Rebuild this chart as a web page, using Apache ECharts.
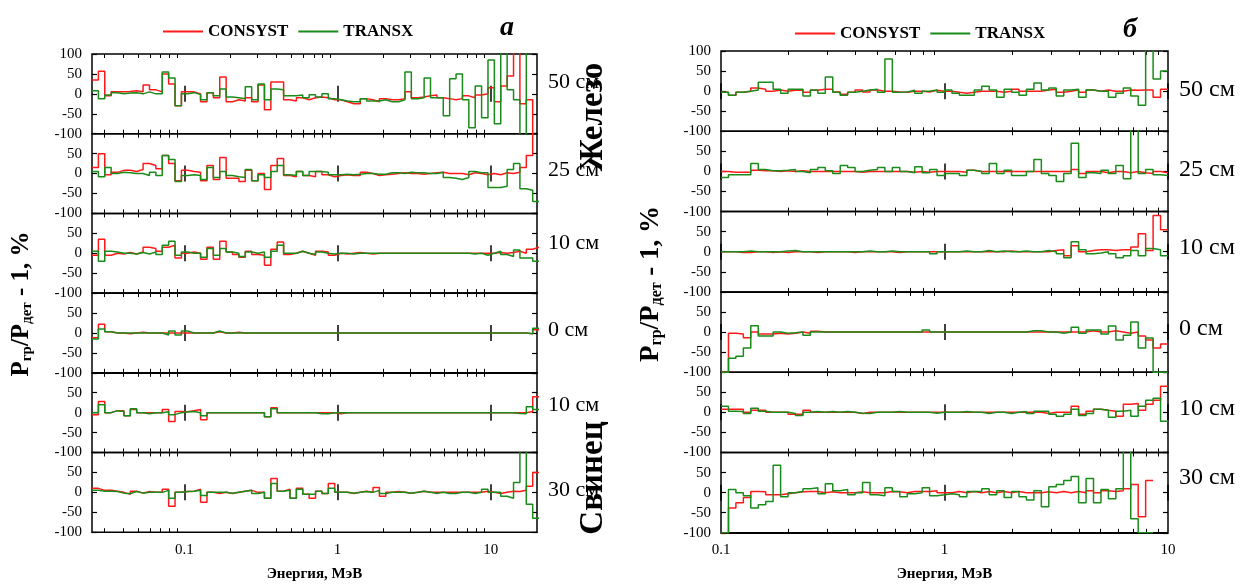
<!DOCTYPE html>
<html>
<head>
<meta charset="utf-8">
<script src="https://cdn.jsdelivr.net/npm/echarts@6/dist/echarts.min.js"></script>
<style>
  html, body { margin: 0; padding: 0; background: #fff; }
  #chart { width: 1246px; height: 584px; }
</style>
</head>
<body>
<div id="chart"></div>
<script>
// group boundaries, MeV
const edgesA = [0.025, 0.02752, 0.03029, 0.03334, 0.0367, 0.04039, 0.04446, 0.04893, 0.05386, 0.05928, 0.06525, 0.07182, 0.07906, 0.08702, 0.09578, 0.1054, 0.116, 0.1277, 0.1406, 0.1547, 0.1703, 0.1875, 0.2063, 0.2271,
  0.25, 0.2752, 0.3029, 0.3334, 0.367, 0.4039, 0.4446, 0.4893, 0.5386, 0.5928, 0.6525, 0.7182, 0.7906, 0.8702, 0.9578, 1.054, 1.16, 1.277, 1.406, 1.547, 1.703, 1.875, 2.063, 2.271,
  2.5, 2.752, 3.029, 3.334, 3.67, 4.039, 4.446, 4.893, 5.386, 5.928, 6.525, 7.182, 7.906, 8.702, 9.578, 10.54, 11.6, 12.77, 14.06, 15.47, 17.03, 18.75, 20.63];
const edgesB = [0.1, 0.108, 0.1166, 0.1259, 0.1359, 0.1468, 0.1585, 0.1711, 0.1848, 0.1995, 0.2154, 0.2326, 0.2512, 0.2712, 0.2929, 0.3162, 0.3415, 0.3687, 0.3981, 0.4299, 0.4642, 0.5012, 0.5412, 0.5843, 0.631, 0.6813, 0.7356, 0.7943, 0.8577, 0.9261,
  1, 1.08, 1.166, 1.259, 1.359, 1.468, 1.585, 1.711, 1.848, 1.995, 2.154, 2.326, 2.512, 2.712, 2.929, 3.162, 3.415, 3.687, 3.981, 4.299, 4.642, 5.012, 5.412, 5.843, 6.31, 6.813, 7.356, 7.943, 8.577, 9.261, 10];

// panel a: deviation, %
const aFe50Consyst = [35, 57, -5, 5, 5, 6, 8, 5, 22, 10, 5, 50, 25, -30, 5, 5, 0, -20, 3, -10, 42, -20, -15, -18, -10, -20, 22, -40, 30, 30, -15, -18, -10, -15, -10, -8, -10, -15, -15, -20, -25, -25, -12, -15, -20, -12, -15, -15, -12, 5, -10, -8, -5, -3, -10, -12, -15, -12, -5, -10, -3, 0, 15, -20, 20, 45, 120, -25, -15, -120];
const aFe50Transx = [8, -12, -3, 3, 0, 2, 3, 0, 5, 0, 0, 55, 40, -30, 0, 3, -2, -15, 3, -5, 12, -8, -10, -12, 18, -15, 25, -15, 12, 10, -5, -5, -3, -10, -2, -8, 0, -12, -15, -18, -20, -20, -12, -18, -18, -15, -20, -20, -15, 55, -12, -10, 40, -10, -10, -55, 38, 50, -15, -85, 20, -60, 85, -75, 120, 10, -15, -110, 120, 120];
const aFe25Consyst = [15, 50, -3, 3, 8, 8, 5, 10, 25, 20, 12, 45, 25, -18, 8, 5, 3, -18, 20, -15, 40, -12, -12, -20, 8, -18, 0, -40, 20, 38, -5, -8, 5, -5, -8, 5, -3, -8, -5, -3, -5, -5, 3, 0, -5, -3, -2, 0, 2, 0, 0, -2, 0, 2, 3, 0, 0, 0, -3, 2, 0, -3, 0, -3, 2, 0, 3, 15, 45, 110];
const aFe25Transx = [5, -8, 15, 0, 3, 2, 0, 0, -5, 3, -5, 45, 35, -20, -5, -3, -5, -15, 15, -10, 5, -5, -8, -10, 10, -18, -3, -10, 5, 20, -3, -5, 5, -5, 5, 5, 3, -3, -3, -2, -3, -2, 0, 0, -2, -2, 2, 2, 0, 3, 2, 2, 0, 0, 3, -10, -12, -15, -10, 5, 2, 2, -35, -35, -32, 10, 25, -38, -42, -70];
const aFe10Consyst = [-5, 35, -5, 0, -2, 2, -2, 3, 15, 12, 5, 15, 20, -12, 0, 3, 0, -15, 15, -15, 30, 3, -3, -10, 5, -3, -5, -30, 10, 28, -3, 0, 5, 0, -5, 5, 3, -5, 0, -2, 0, 2, 0, -2, 0, 0, 0, 0, 0, 0, 0, 0, 0, 0, 0, 0, 0, 0, 0, 0, 0, 0, 0, 2, 0, 2, 5, 0, 10, 15];
const aFe10Transx = [5, -20, 5, 3, 0, 0, -2, 2, -2, 3, -3, 20, 30, -5, 3, 0, 0, -10, 12, -5, 12, 3, 0, -8, 3, 0, 3, -10, 5, 20, 0, 0, 5, 0, -3, 3, 0, -2, 0, 0, -2, 0, 0, 0, 0, 0, 0, 0, 0, 0, 0, 0, 0, 0, 0, 0, 0, 0, 0, -2, 0, -5, 0, 5, -3, -8, 8, -12, -12, -20];
const a0Consyst = [-12, 22, 3, 0, 0, -2, 0, 2, 0, 0, 0, 0, 0, 0, 0, 0, 0, 0, 0, 3, 0, 0, 2, 0, 0, 0, 0, 0, 0, 0, 0, 0, 0, 0, 0, 0, 0, 0, 0, 0, 0, 0, 0, 0, 0, 0, 0, 0, 0, 0, 0, 0, 0, 0, 0, 0, 0, 0, 0, 0, 0, 0, 0, 0, 0, 0, 0, 0, -2, 8];
const a0Transx = [-15, 10, 3, 0, 0, 0, 0, 0, 0, 0, 0, -5, 5, -5, 5, 0, 0, 0, 0, 5, 0, 0, 0, 0, 0, 0, 0, 0, 0, 0, 0, 0, 0, 0, 0, 0, 0, 0, 0, 0, 0, 0, 0, 0, 0, 0, 0, 0, 0, 0, 0, 0, 0, 0, 0, 0, 0, 0, 0, 0, 0, 0, 0, 0, 0, 0, 0, 0, -2, 12];
const aPb10Consyst = [-5, 28, 0, 5, 5, -8, 8, 0, 0, 0, 0, 8, -22, 3, 2, 5, 8, -18, 0, 0, 0, 0, 0, 0, 0, 0, 0, -10, 12, 0, 0, 0, 0, 0, 0, 0, 0, 0, -3, 0, 0, 0, 0, 0, 0, 0, 0, 0, 0, 0, 0, 0, 0, 0, 0, 0, 0, 0, 0, 0, 0, 0, 0, 0, 0, 0, 0, 0, 3, 40];
const aPb10Transx = [0, 20, 0, 5, 3, -8, 10, 0, -3, 0, 0, 2, -5, 0, 2, 3, 0, -8, 0, 0, 0, 0, 0, 0, 0, 0, 0, -10, 10, 0, 0, 0, 0, 0, 0, -3, -3, 0, 0, 0, 0, 0, 0, 0, 0, 0, 0, 0, 0, 0, 0, 0, 0, 0, 0, 0, 0, 0, 0, 0, 0, 0, 0, 0, 0, 0, -2, -3, 15, 8];
const aPb30Consyst = [10, 5, 5, 3, 0, -5, 3, -2, 2, 0, 0, 8, -35, 0, 2, 3, 8, -25, 0, -3, 0, -3, 0, 3, 5, 0, 0, -15, 35, 3, 8, -15, 10, -5, -15, 3, -3, 22, 0, 0, -3, 0, 3, 0, 12, -10, 0, 2, 0, -2, 0, 3, 0, 0, 0, 0, 0, 0, 0, 0, 0, 3, 0, -3, 0, 3, 2, 5, 15, 50];
const aPb30Transx = [5, 3, 3, 2, -2, -3, 2, -2, 0, 0, 0, 5, -15, 0, 2, 3, 5, -8, 0, 0, 0, -2, 0, 3, 5, -3, 0, -15, 22, 3, 5, -15, 8, -5, -5, 3, -3, 10, 0, 0, -2, 0, 2, 0, 5, -3, 0, 0, 0, -2, 0, 3, 0, -3, 0, -3, -3, 0, 0, -3, 0, 8, 0, 0, -10, -15, 25, 120, -30, -65];

// panel b
const bFe50Consyst = [-3, -10, -3, 0, 8, 5, 0, 3, 0, 2, 3, -3, 2, 5, 5, -2, -8, -3, 3, -2, 3, 0, 0, -2, -3, 0, 0, -2, 2, 0, 0, -3, -5, -3, 0, 0, 0, -3, 0, 5, 0, 0, 0, 3, 5, -3, 0, 3, -3, 3, 0, 3, 0, 0, 3, 2, 3, 3, -15, 5];
const bFe50Transx = [-3, -10, -3, 0, 3, 22, 22, 5, -5, 5, 5, -12, 3, -5, 35, -3, -10, -3, 0, 3, 5, -3, 80, -3, -2, 2, -5, 0, 3, -3, 3, -5, -10, -10, 3, 12, 3, -15, 5, -3, -10, 5, 20, 3, 8, -12, 3, 5, -15, 3, 0, 0, -15, -5, 8, -12, -35, 120, 30, 50];
const bFe25Consyst = [0, -2, -2, -2, 3, 2, 2, 0, 2, 0, 2, 0, 0, 0, 0, 0, 0, 0, -2, 0, 0, 0, 0, 0, 0, -2, 0, -2, 0, 0, 0, 0, -2, 3, 0, 0, 0, 0, 0, 0, 0, 0, 0, 0, 0, 0, 0, 5, -5, 0, 0, -3, 0, 0, -3, 0, -3, -5, 0, -3];
const bFe25Transx = [-15, -8, -8, -8, 20, 5, 2, 2, 3, 5, 0, -3, 5, 10, 2, -5, 15, 10, 0, 3, 5, 10, 0, 10, 0, -3, 12, -3, 5, -10, -5, -5, -10, 3, 0, -5, 20, -5, 3, -10, -10, 0, 30, -5, -10, -25, -5, 70, -15, -3, -5, 3, -5, 15, -18, 120, -5, 5, -8, -10];
const bFe10Consyst = [0, 0, -2, -2, 0, 0, -2, 0, -2, 0, 0, 0, -2, 0, 0, 0, 0, -2, 0, 0, 0, 0, 0, -2, 0, 0, 0, 0, 0, 0, 0, 0, 0, 0, 0, 0, 0, 0, 2, 0, 0, 0, 0, 0, 3, 5, -10, 15, 0, 3, 5, 5, 3, 5, 5, 12, 45, 3, 90, 55];
const bFe10Transx = [0, 0, 0, 2, 0, 0, 0, 0, 2, 3, 0, 0, 0, 0, 0, 0, 0, 0, 0, 2, 0, 0, 2, 0, 0, 0, 0, 0, -5, 0, 0, 0, 2, 0, 0, 3, 0, 2, 0, 0, 2, 0, 0, 3, 0, -5, -15, 25, 5, -5, -3, 0, -5, -15, -10, 3, -10, 8, 5, -10];
const b0Consyst = [-100, -3, -5, -14, 0, -5, -5, -3, -5, -3, 0, -3, 2, 0, 0, 0, 0, 0, 0, 0, 0, 0, 0, 0, 0, 0, 0, 0, 0, 0, 0, 0, 0, 0, 0, 0, 0, 0, 0, 0, 0, 0, 0, 0, 0, 0, 0, 0, 0, 3, 0, 0, 3, 0, -3, 0, -10, -20, -40, -30];
const b0Transx = [-100, -65, -60, -40, 16, -10, -10, 0, -3, -2, 0, -8, 0, 0, 0, 0, 0, 0, 0, 0, 0, 0, 0, 0, 0, 0, 0, 5, 0, 0, 0, 0, 0, 0, 0, 0, 0, 0, 0, 0, 0, 3, 3, 0, 0, -3, 0, 12, -3, 5, 5, -5, 15, -20, -8, 25, -40, -15, -100, -100];
const bPb10Consyst = [8, 8, 8, 0, 5, 5, 0, 0, 0, -5, -5, 5, 0, 0, 0, 0, 0, 0, -3, 0, 0, 0, 0, 0, 0, 0, 0, 0, 0, 0, 0, 0, 0, 0, 0, 0, 0, 0, 0, 0, 0, 0, 0, -3, 0, 0, 0, 15, -5, 3, 8, 5, 3, -10, 20, 22, 5, 20, 30, 65];
const bPb10Transx = [15, 3, 2, -3, 10, 3, 0, 0, 0, -3, -8, 0, 2, 0, 2, 0, 2, 0, -2, -3, 0, 0, 0, 2, 0, 0, 0, 0, -2, 0, 0, 0, 2, 0, 0, -3, 0, 0, -3, 0, 2, -3, 3, 3, -5, -10, -5, 8, -8, -3, 8, 5, -12, 3, 5, -10, 15, 30, 35, -22];
const bPb30Consyst = [-100, -38, -25, -12, 3, 2, -5, -5, -3, 0, 2, 3, 3, 0, 2, 0, 0, 0, 2, 0, 0, 0, 3, 2, 0, 3, 3, 3, 5, 0, 0, 3, 0, 3, 0, 3, 0, 3, 0, 3, 0, 0, 0, 2, 0, 3, 0, 3, 0, 5, 0, 5, 3, 5, 10, 20, -60, 30, null, null];
const bPb30Transx = [-100, 8, 0, -8, -38, -30, -22, 68, -10, 0, 3, 10, 12, -3, 22, 5, 8, -5, 0, 25, -5, -8, 12, 3, -10, -3, 0, 12, -8, -5, -3, -5, -10, 3, 3, 10, -5, 5, -12, 3, -10, -18, 5, -35, 15, 20, 30, 40, -25, 35, -25, 8, -15, 10, 120, -65, -100, -100, null, null];

const rowLabels = ['50 см', '25 см', '10 см', '0 см', '10 см', '30 см'];
const majorTicksA = [0.1, 1, 10];
const minorTicksA = [0.03, 0.04, 0.05, 0.06, 0.07, 0.08, 0.09, 0.2, 0.3, 0.4, 0.5, 0.6, 0.7, 0.8, 0.9, 2, 3, 4, 5, 6, 7, 8, 9];
const majorTicksB = [0.1, 1, 10];
const minorTicksB = [0.2, 0.3, 0.4, 0.5, 0.6, 0.7, 0.8, 0.9, 2, 3, 4, 5, 6, 7, 8, 9];

const FONT = 'Liberation Serif';
const RED = '#ff1a1a';
const GREEN = '#1a8c1a';
const AX_PER_GRID = 5;

const panels = [
  { edges: edgesA, min: 0.025, max: 20, left: 92, width: 445, top: 54, rowH: 79.7, major: majorTicksA, minor: minorTicksA,
    rows: [[aFe50Consyst, aFe50Transx], [aFe25Consyst, aFe25Transx], [aFe10Consyst, aFe10Transx], [a0Consyst, a0Transx], [aPb10Consyst, aPb10Transx], [aPb30Consyst, aPb30Transx]],
    labelX: 548, labelSize: 22, labelY: [82, 170, 243, 330, 405, 490] },
  { edges: edgesB, min: 0.1, max: 10, left: 721, width: 447, top: 51, rowH: 80.3, major: majorTicksB, minor: minorTicksB,
    rows: [[bFe50Consyst, bFe50Transx], [bFe25Consyst, bFe25Transx], [bFe10Consyst, bFe10Transx], [b0Consyst, b0Transx], [bPb10Consyst, bPb10Transx], [bPb30Consyst, bPb30Transx]],
    labelX: 1179, labelSize: 24, labelY: [90, 170, 248, 329, 409, 478] }
];

function stepPoints(edges, vals) {
  const pts = [];
  vals.forEach((v, i) => {
    pts.push([edges[i], v]);
    if (v !== null && (i === vals.length - 1 || vals[i + 1] === null)) pts.push([edges[i + 1], v]);
  });
  return pts;
}

const grids = [], xAxes = [], yAxes = [], series = [], graphics = [];

panels.forEach((p) => {
  p.rows.forEach((row, r) => {
    const g = grids.length;
    const last = r === p.rows.length - 1;
    grids.push({ left: p.left, top: p.top + r * p.rowH, width: p.width, height: p.rowH,
      show: true, borderColor: '#000', borderWidth: 1.5, backgroundColor: 'transparent' });

    const xBase = { type: 'log', gridIndex: g, min: p.min, max: p.max, axisLine: { show: false }, splitLine: { show: false } };
    const major = { inside: true, length: 8, lineStyle: { color: '#000', width: 1.5 }, customValues: p.major };
    const minor = { inside: true, length: 4, lineStyle: { color: '#000', width: 1 }, customValues: p.minor };
    xAxes.push(Object.assign({}, xBase, {
      position: 'bottom', axisTick: major,
      axisLabel: { show: last, customValues: p.major, fontFamily: FONT, fontSize: 15, color: '#000', margin: 10 },
      name: last ? 'Энергия, МэВ' : '', nameLocation: 'middle', nameGap: 34,
      nameTextStyle: { fontFamily: FONT, fontSize: 15, fontWeight: 'bold', color: '#000' }
    }));
    xAxes.push(Object.assign({}, xBase, { position: 'top', axisTick: major, axisLabel: { show: false } }));
    xAxes.push(Object.assign({}, xBase, { position: 'bottom', axisTick: minor, axisLabel: { show: false } }));
    xAxes.push(Object.assign({}, xBase, { position: 'top', axisTick: minor, axisLabel: { show: false } }));
    // zero reference line, drawn under the curves
    xAxes.push(Object.assign({}, xBase, { position: 'bottom', axisTick: { show: false }, axisLabel: { show: false },
      axisLine: { show: true, onZero: true, lineStyle: { color: '#000', width: 1.2 } } }));

    const yBase = { type: 'value', gridIndex: g, min: -100, max: 100, interval: 50, axisLine: { show: false }, splitLine: { show: false },
      axisTick: { inside: true, length: 5, lineStyle: { color: '#000', width: 1.2 } } };
    yAxes.push(Object.assign({}, yBase, { position: 'left',
      axisLabel: { fontFamily: FONT, fontSize: 15, color: '#000', margin: 10, showMaxLabel: r === 0 } }));
    yAxes.push(Object.assign({}, yBase, { position: 'right', axisLabel: { show: false } }));

    series.push({ name: 'CONSYST', type: 'line', xAxisIndex: g * AX_PER_GRID, yAxisIndex: g * 2, step: 'end', symbol: 'none',
      data: stepPoints(p.edges, row[0]), lineStyle: { color: RED, width: 1.5 }, itemStyle: { color: RED } });
    series.push({ name: 'TRANSX', type: 'line', xAxisIndex: g * AX_PER_GRID, yAxisIndex: g * 2, step: 'end', symbol: 'none',
      data: stepPoints(p.edges, row[1]), lineStyle: { color: GREEN, width: 1.5 }, itemStyle: { color: GREEN } });

    graphics.push({ type: 'text', x: p.labelX, y: p.labelY[r],
      style: { text: rowLabels[r], fontFamily: FONT, fontSize: p.labelSize, fill: '#000', align: 'left', verticalAlign: 'middle' } });
  });
});

function yTitleRich(size) {
  const sub = Math.round(size * 0.6);
  return {
    b: { fontFamily: FONT, fontSize: size, fontWeight: 'bold', fill: '#000' },
    s: { fontFamily: FONT, fontSize: sub, fontWeight: 'bold', fill: '#000', verticalAlign: 'bottom', padding: [Math.round(size * 0.45), 0, 0, 0] }
  };
}
graphics.push(
  { type: 'text', x: 22, y: 304, rotation: Math.PI / 2,
    style: { text: '{b|P}{s|гр}{b|/P}{s|дет}{b| - 1, %}', rich: yTitleRich(25), align: 'center', verticalAlign: 'middle' } },
  { type: 'text', x: 651, y: 284, rotation: Math.PI / 2,
    style: { text: '{b|P}{s|гр}{b|/P}{s|дет}{b| - 1, %}', rich: yTitleRich(27), align: 'center', verticalAlign: 'middle' } },
  { type: 'text', x: 593, y: 117, rotation: Math.PI / 2,
    style: { text: 'Железо', fontFamily: FONT, fontSize: 33, fontWeight: 'bold', fill: '#000', align: 'center', verticalAlign: 'middle' } },
  { type: 'text', x: 593, y: 478, rotation: Math.PI / 2,
    style: { text: 'Свинец', fontFamily: FONT, fontSize: 33, fontWeight: 'bold', fill: '#000', align: 'center', verticalAlign: 'middle' } },
  { type: 'text', x: 507, y: 28,
    style: { text: 'а', fontFamily: FONT, fontSize: 28, fontWeight: 'bold', fontStyle: 'italic', fill: '#000', align: 'center', verticalAlign: 'middle' } },
  { type: 'text', x: 1130, y: 30,
    style: { text: 'б', fontFamily: FONT, fontSize: 28, fontWeight: 'bold', fontStyle: 'italic', fill: '#000', align: 'center', verticalAlign: 'middle' } }
);

const legendBase = { data: ['CONSYST', 'TRANSX'], icon: 'rect', itemWidth: 40, itemHeight: 2, itemGap: 10, selectedMode: false,
  textStyle: { fontFamily: FONT, fontSize: 17, fontWeight: 'bold', color: '#000' } };

const chart = echarts.init(document.getElementById('chart'));
chart.setOption({
  animation: false,
  backgroundColor: '#fff',
  legend: [Object.assign({ left: 158, top: 18 }, legendBase), Object.assign({ left: 790, top: 20 }, legendBase)],
  grid: grids,
  xAxis: xAxes,
  yAxis: yAxes,
  series: series,
  graphic: graphics
});
</script>
</body>
</html>
